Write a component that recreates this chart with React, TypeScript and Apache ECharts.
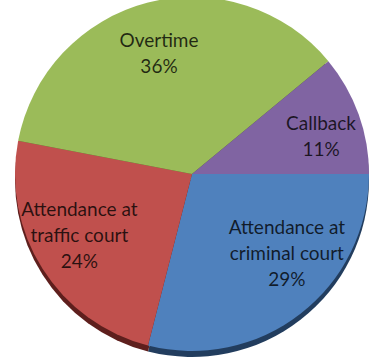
import React, { useEffect, useRef } from "react";
import * as echarts from "echarts";

const categories = [
  "Attendance at\ncriminal court",
  "Attendance at\ntraffic court",
  "Overtime",
  "Callback",
];
const percents = [29, 24, 36, 11];
const topColors = ["#4F81BD", "#C0504D", "#9BBB59", "#8064A2"];
const sideColors = ["#223D5E", "#5E1F1D", "#4B5E24", "#3E2D55"];
const labelOffsets = [
  [16, -23],
  [-4, -8],
  [-1, 3],
  [8, 5],
];

export default function App() {
  const ref = useRef<HTMLDivElement>(null);
  useEffect(() => {
    if (!ref.current) return;
    const chart = echarts.init(ref.current, undefined, { renderer: "svg" });
    const cx = 192;
    const cy = 174;
    const R = 177;
    const data = categories.map((name, i) => ({ name, value: percents[i] }));
    chart.setOption({
      animation: false,
      backgroundColor: "#ffffff",
      series: [
        {
          type: "pie",
          center: [cx, cy + 6],
          radius: R,
          startAngle: 0,
          clockwise: true,
          silent: true,
          label: { show: false },
          labelLine: { show: false },
          data: data.map((d, i) => ({ ...d, itemStyle: { color: sideColors[i] } })),
        },
        {
          type: "pie",
          center: [cx, cy],
          radius: R,
          startAngle: 0,
          clockwise: true,
          silent: true,
          label: { show: false },
          labelLine: { show: false },
          data: data.map((d, i) => ({ ...d, itemStyle: { color: topColors[i] } })),
        },
        {
          type: "pie",
          center: [cx, cy],
          radius: [R * 0.42, R],
          startAngle: 0,
          clockwise: true,
          silent: true,
          itemStyle: { color: "rgba(0,0,0,0)" },
          labelLine: { show: false },
          label: {
            show: true,
            position: "inside",
            formatter: (p: any) => `${p.name}\n${p.value}%`,
            fontFamily: "Lato",
            fontWeight: "normal",
            fontSize: 19,
            lineHeight: 26,
            color: "rgba(0,0,0,0.78)",
            align: "center",
          },
          data: data.map((d, i) => ({ ...d, label: { offset: labelOffsets[i] } })),
        },
      ],
    });
    return () => chart.dispose();
  }, []);
  return (
    <div
      ref={ref}
      style={{ position: "fixed", left: 0, top: 0, width: 370, height: 360 }}
    />
  );
}
